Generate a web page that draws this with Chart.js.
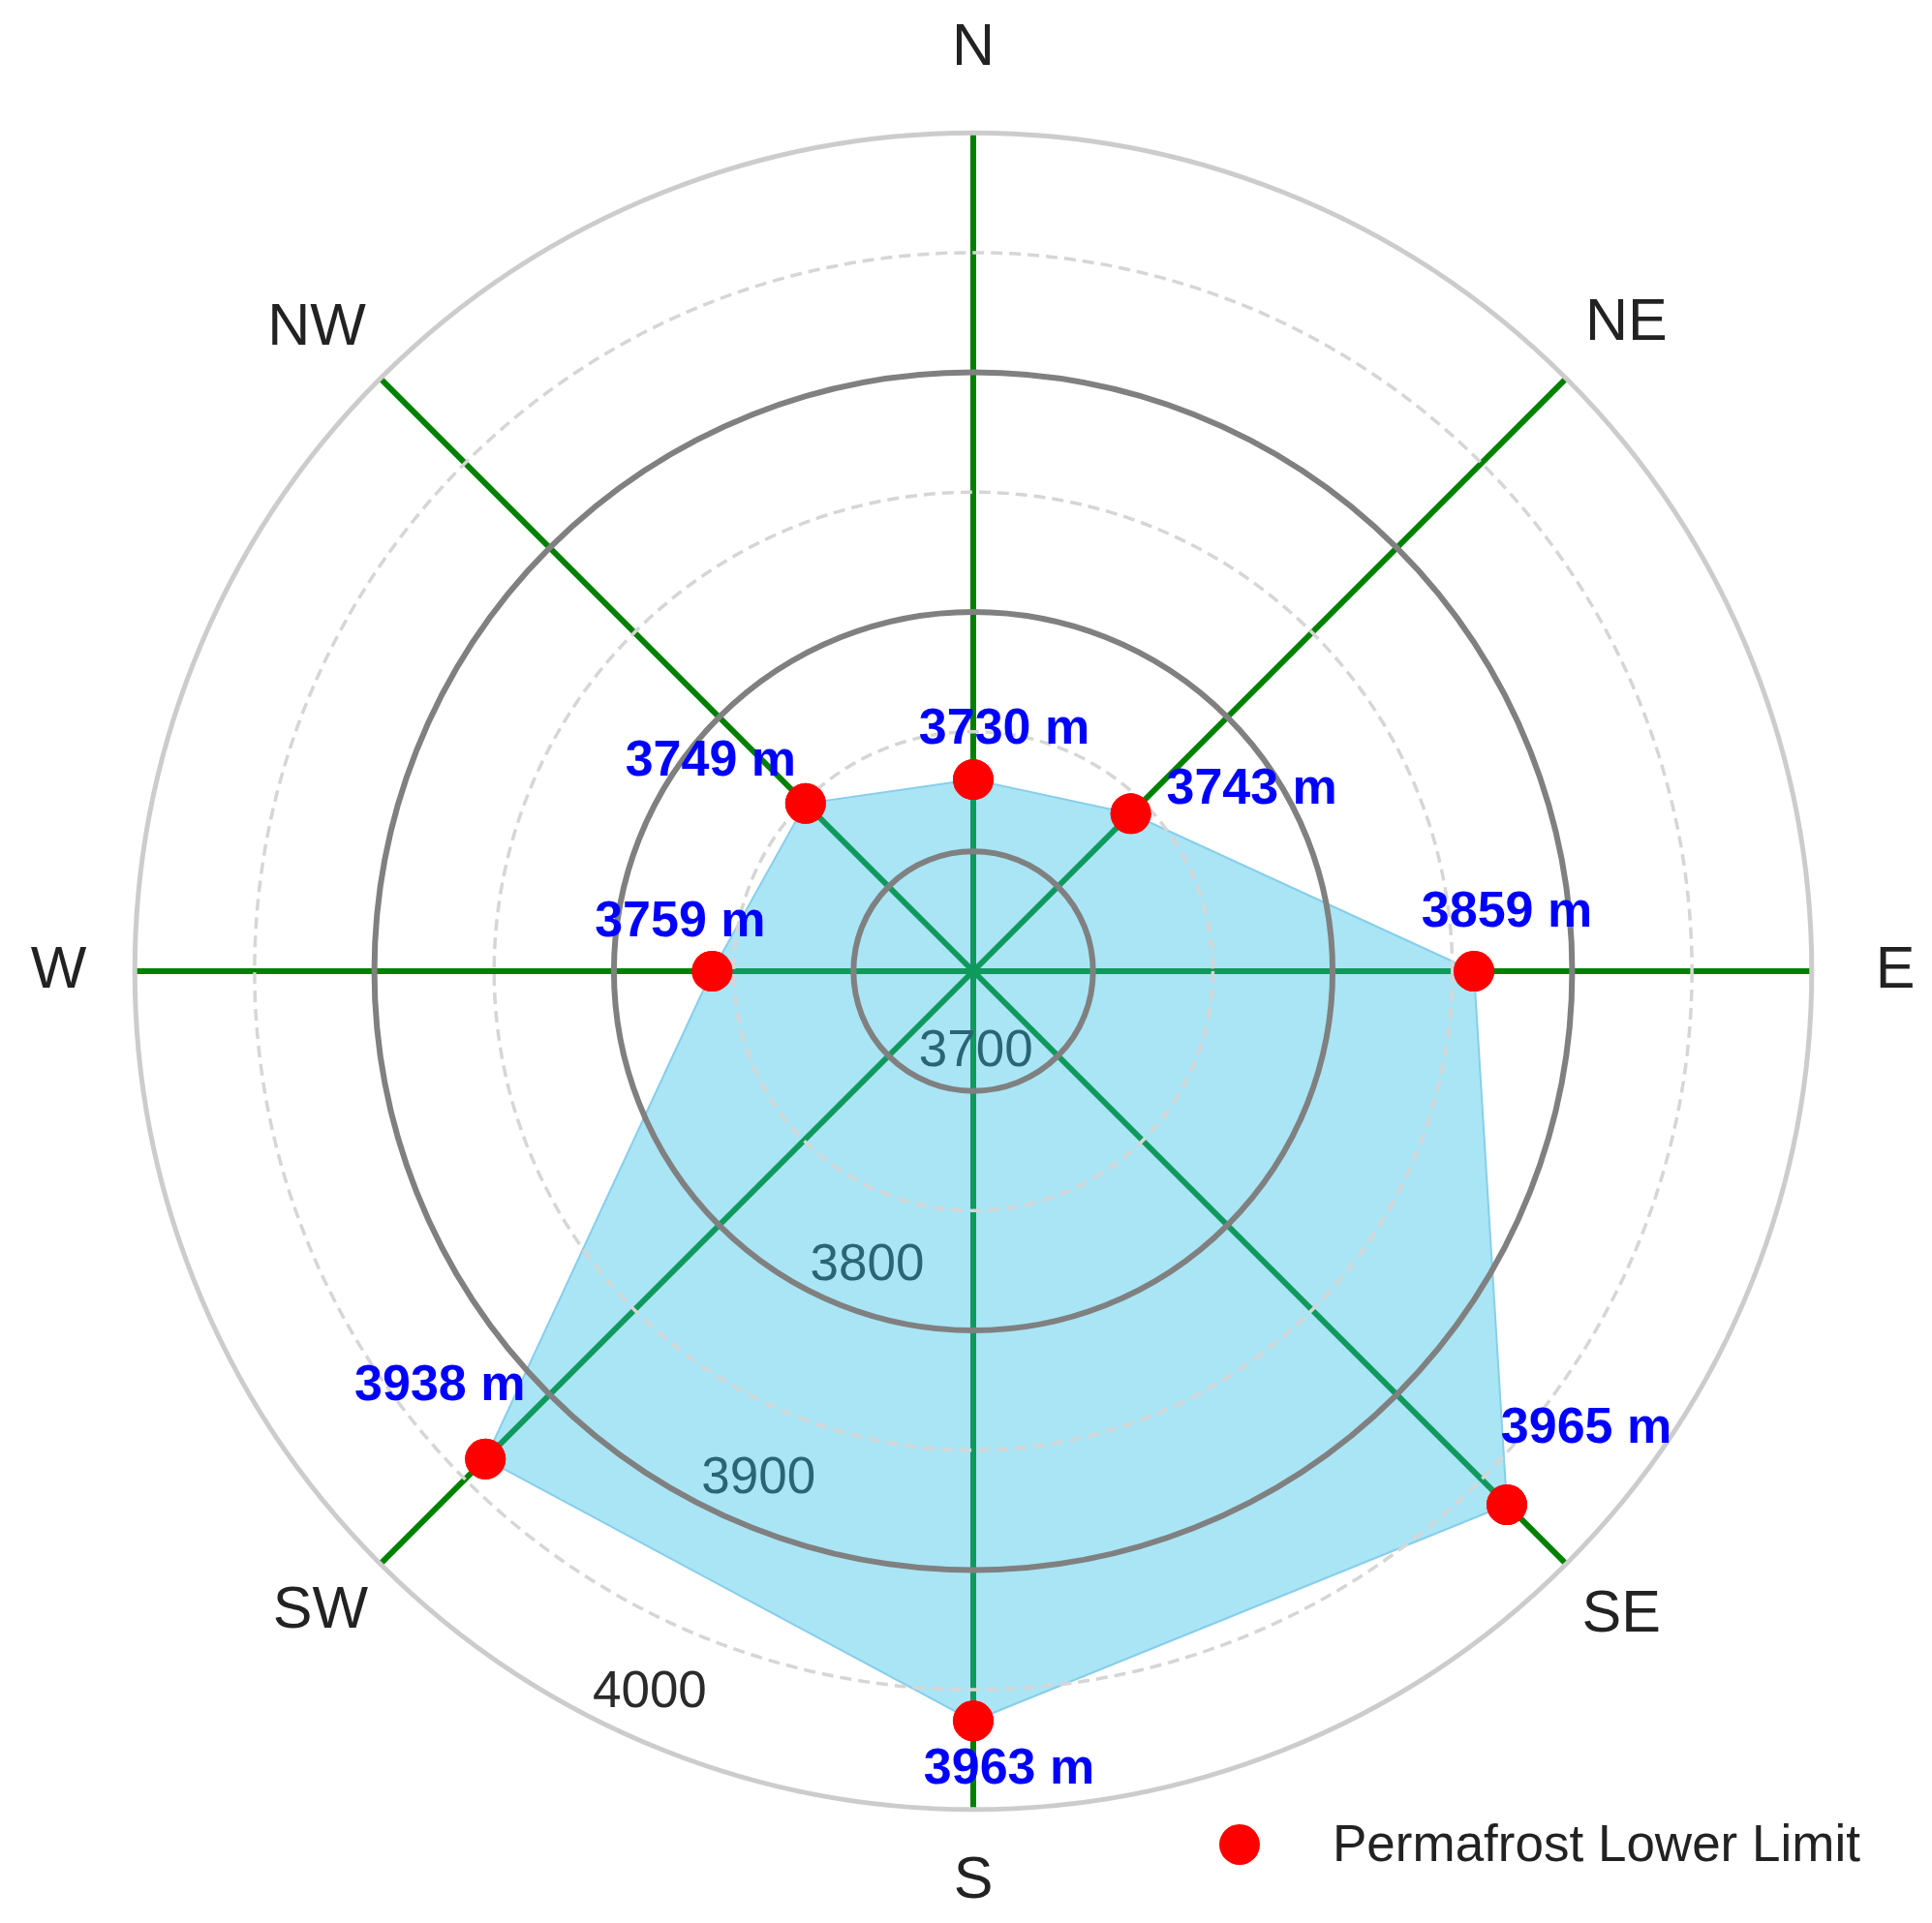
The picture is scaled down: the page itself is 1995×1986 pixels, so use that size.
<!DOCTYPE html>
<html>
<head>
<meta charset="utf-8">
<title>Permafrost Lower Limit</title>
<script src="https://cdn.jsdelivr.net/npm/chart.js@4.4.1/dist/chart.umd.min.js"></script>
<style>
    html, body { margin: 0; padding: 0; background: #ffffff; }
    #myChart { display: block; }
</style>
</head>
<body>
<canvas id="myChart" width="1995" height="1986"></canvas>
<script>
const directions = ["N", "NE", "E", "SE", "S", "SW", "W", "NW"];
const lowerLimit = [3730, 3743, 3859, 3965, 3963, 3938, 3759, 3749];
const tickLabels = [3700, 3800, 3900, 4000];
const seriesName = "Permafrost Lower Limit";

const rMin = 3650;
const rMax = 4000;

const FONT = "'Liberation Sans', Arial, sans-serif";

// gap between outer ring and each direction label
const labelPadding = [50, 28, 66, 23, 38, 18, 50, 21];
// where each "xxxx m" label sits relative to its dot
const valueLabelShift = [
    [32, -51], [125, -25], [34, -60], [82, -78],
    [37, 50], [-47, -75], [-33, -50], [-98, -43]
];

// tick labels sit under the fill, so draw them before the datasets
const tickLabelPlugin = {
    id: "tickLabelPlugin",
    beforeDatasetsDraw(chart) {
        const scale = chart.scales.r;
        const ctx = chart.ctx;
        const angle = 207 * Math.PI / 180;
        ctx.save();
        ctx.font = "53px " + FONT;
        ctx.fillStyle = "#2a2a2a";
        ctx.textAlign = "left";
        ctx.textBaseline = "bottom";
        tickLabels.forEach(v => {
            const d = scale.getDistanceFromCenterForValue(v);
            const p = scale.getPointPosition(0, d, angle);
            ctx.fillText(String(v), p.x, p.y);
        });
        ctx.restore();
    }
};

// dots, value labels and legend go on top of the rings
const overlayPlugin = {
    id: "overlayPlugin",
    afterDraw(chart) {
        const ctx = chart.ctx;
        const meta = chart.getDatasetMeta(0);

        meta.data.forEach(pt => pt.draw(ctx, chart.chartArea));

        ctx.save();
        ctx.font = "bold 52px " + FONT;
        ctx.fillStyle = "#0000ff";
        ctx.textAlign = "center";
        ctx.textBaseline = "middle";
        meta.data.forEach((pt, i) => {
            const s = valueLabelShift[i];
            ctx.fillText(lowerLimit[i] + " m", pt.x + s[0], pt.y + s[1]);
        });

        // legend
        const lx = 1280, ly = 1905;
        ctx.beginPath();
        ctx.arc(lx, ly, 21, 0, Math.PI * 2);
        ctx.fillStyle = "#ff0000";
        ctx.fill();
        ctx.font = "53px " + FONT;
        ctx.fillStyle = "#222222";
        ctx.textAlign = "left";
        ctx.fillText(chart.data.datasets[0].label, 1376, ly + 2);
        ctx.restore();
    }
};

function ringColor(ctx) {
    const v = ctx.tick.value;
    if (v === rMax) return "#cccccc";
    if (v % 100 === 0) return "#808080";
    return "#d6d6d6";
}

function ringWidth(ctx) {
    const v = ctx.tick.value;
    if (v === rMax) return 5;
    if (v % 100 === 0) return 6;
    return 3.5;
}

function ringDash(ctx) {
    const v = ctx.tick.value;
    if (v % 100 === 0) return [];
    return [12, 7];
}

const pointLabelFont = { family: FONT, size: 61 };

const chart = new Chart(document.getElementById("myChart"), {
    type: "radar",
    data: {
        labels: directions,
        datasets: [{
            label: seriesName,
            data: lowerLimit,
            fill: "start",
            backgroundColor: "rgba(40, 190, 230, 0.4)",
            borderColor: "rgba(135, 206, 235, 1)",
            borderWidth: 2,
            pointRadius: 21,
            pointHoverRadius: 21,
            pointBackgroundColor: "#ff0000",
            pointBorderWidth: 0
        }]
    },
    options: {
        responsive: false,
        animation: false,
        events: [],
        layout: {
            padding: { left: 15, top: 8, right: 0, bottom: 0 }
        },
        plugins: {
            legend: { display: false },
            tooltip: { enabled: false }
        },
        scales: {
            r: {
                min: rMin,
                max: rMax,
                ticks: { display: false, stepSize: 50 },
                grid: { display: false, circular: true },
                angleLines: { display: true, color: "#008000", lineWidth: 6 },
                pointLabels: {
                    display: true,
                    color: "#222222",
                    font: pointLabelFont,
                    padding: ctx => labelPadding[ctx.index]
                }
            },
            r2: {
                type: "radialLinear",
                min: rMin,
                max: rMax,
                ticks: { display: false, stepSize: 50 },
                angleLines: { display: false },
                grid: {
                    circular: true,
                    z: 1,
                    color: ringColor,
                    lineWidth: ringWidth
                },
                border: { dash: ringDash },
                pointLabels: {
                    display: true,
                    color: "rgba(0,0,0,0)",
                    font: pointLabelFont,
                    padding: ctx => labelPadding[ctx.index]
                }
            }
        }
    },
    plugins: [tickLabelPlugin, overlayPlugin]
});
</script>
</body>
</html>
